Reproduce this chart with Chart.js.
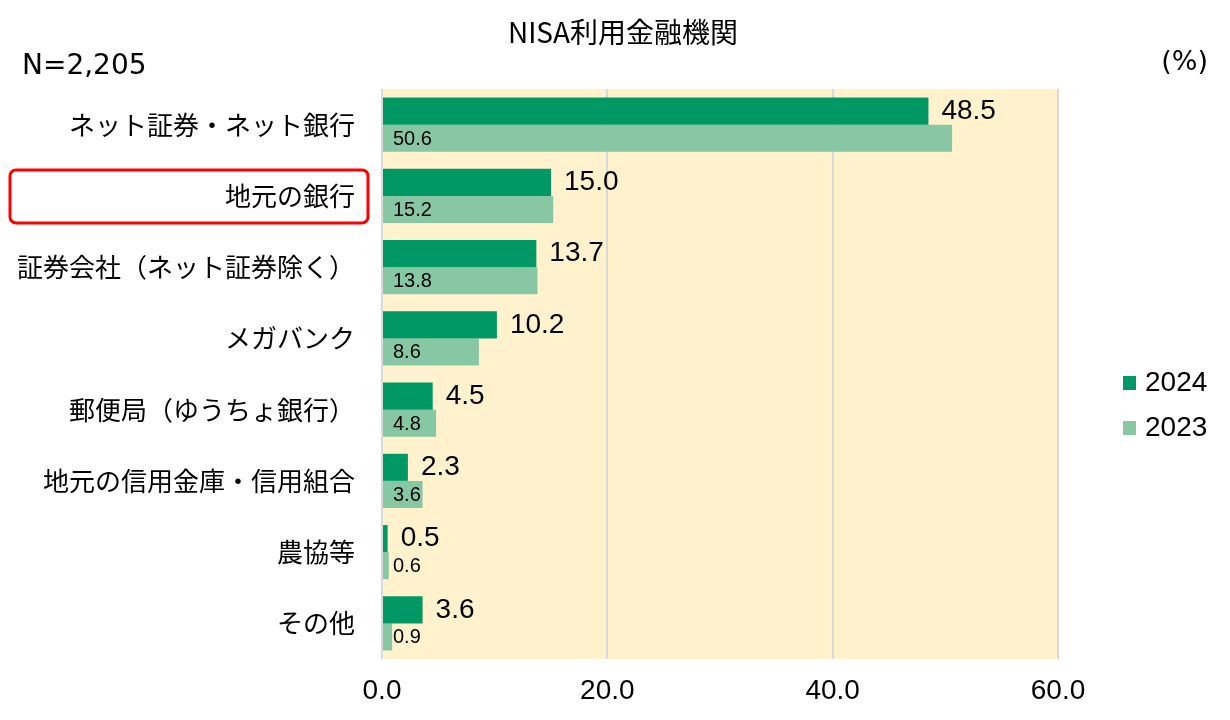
<!DOCTYPE html>
<html><head><meta charset="utf-8">
<script src="https://cdn.jsdelivr.net/npm/chart.js@4/dist/chart.umd.min.js"></script>
<style>html,body{margin:0;padding:0;background:#fff;} #wrap{width:1230px;height:720px;position:relative;}</style>
</head><body><div id="wrap"><canvas id="c" width="1230" height="720"></canvas></div>
<script>
const categories = ['ネット証券・ネット銀行','地元の銀行','証券会社（ネット証券除く）','メガバンク','郵便局（ゆうちょ銀行）','地元の信用金庫・信用組合','農協等','その他'];
const values2024 = [48.5, 15.0, 13.7, 10.2, 4.5, 2.3, 0.5, 3.6];
const values2023 = [50.6, 15.2, 13.8, 8.6, 4.8, 3.6, 0.6, 0.9];
const seriesNames = ['2024', '2023'];
const xTicks = [0, 20, 40, 60];
const chartTitle = 'NISA利用金融機関';
const sampleNote = 'N=2,205';
const unitNote = '(%)';
const highlightIndex = 1;

const colors = ['#009966', '#87C7A3'];
const JP = '"Noto Sans CJK JP", "Noto Sans", sans-serif';
const LAT = '"Liberation Sans", Arial, sans-serif';

function rrect(ctx, x, y, w, h, r) {
  ctx.beginPath();
  ctx.moveTo(x + r, y);
  ctx.lineTo(x + w - r, y); ctx.arcTo(x + w, y, x + w, y + r, r);
  ctx.lineTo(x + w, y + h - r); ctx.arcTo(x + w, y + h, x + w - r, y + h, r);
  ctx.lineTo(x + r, y + h); ctx.arcTo(x, y + h, x, y + h - r, r);
  ctx.lineTo(x, y + r); ctx.arcTo(x, y, x + r, y, r);
  ctx.closePath();
}

const decor = {
  id: 'decor',
  beforeDraw(chart) {
    const {ctx, chartArea: a} = chart;
    ctx.save();
    ctx.fillStyle = '#FFF2CC';
    ctx.fillRect(a.left, a.top, a.right - a.left, a.bottom - a.top);
    ctx.restore();
  },
  afterDatasetsDraw(chart) {
    const {ctx, chartArea: a} = chart;
    ctx.save();
    ctx.fillStyle = '#000';
    ctx.textBaseline = 'middle';
    ctx.textAlign = 'left';
    const m0 = chart.getDatasetMeta(0);
    ctx.font = '28px ' + LAT;
    m0.data.forEach((el, i) => {
      ctx.fillText(values2024[i].toFixed(1), el.x + 13, el.y);
    });
    const m1 = chart.getDatasetMeta(1);
    ctx.font = '20px ' + LAT;
    m1.data.forEach((el, i) => {
      ctx.fillText(values2023[i].toFixed(1), a.left + 11, el.y + 1);
    });
    ctx.restore();
  },
  afterDraw(chart) {
    const {ctx} = chart;
    ctx.save();
    ctx.fillStyle = '#000';
    // title
    ctx.font = '28px ' + JP;
    ctx.textAlign = 'center';
    ctx.textBaseline = 'middle';
    ctx.fillText(chartTitle, 623, 32);
    // N note
    ctx.font = '28px "DejaVu Sans", sans-serif';
    ctx.textAlign = 'left';
    ctx.textBaseline = 'alphabetic';
    ctx.fillText(sampleNote, 22, 74);
    ctx.font = '27px "DejaVu Sans", sans-serif';
    ctx.textAlign = 'right';
    ctx.fillText(unitNote, 1208, 70);
    // legend
    const ly = [383, 428];
    seriesNames.forEach((n, i) => {
      ctx.fillStyle = colors[i];
      ctx.fillRect(1123, ly[i] - 7, 13, 14);
      ctx.fillStyle = '#000';
      ctx.font = '28px ' + LAT;
      ctx.textAlign = 'left';
      ctx.textBaseline = 'middle';
      ctx.fillText(n, 1145, ly[i]);
    });
    // highlight box
    const yc = chart.scales.y.getPixelForValue(highlightIndex);
    ctx.strokeStyle = '#FF0000';
    ctx.lineWidth = 3;
    rrect(ctx, 10, yc - 26, 358, 53, 6);
    ctx.stroke();
    ctx.restore();
  }
};

new Chart(document.getElementById('c'), {
  type: 'bar',
  data: {
    labels: categories,
    datasets: [
      {label: seriesNames[0], data: values2024, backgroundColor: colors[0], barPercentage: 1, categoryPercentage: 0.76},
      {label: seriesNames[1], data: values2023, backgroundColor: colors[1], barPercentage: 1, categoryPercentage: 0.76}
    ]
  },
  options: {
    indexAxis: 'y',
    responsive: false,
    animation: false,
    layout: {padding: {top: 89, right: 172, left: 0, bottom: 0}},
    plugins: {legend: {display: false}, title: {display: false}, tooltip: {enabled: false}},
    scales: {
      x: {
        min: 0, max: 60,
        afterBuildTicks: s => { s.ticks = xTicks.map(v => ({value: v})); },
        afterFit: s => { s.height = 61; },
        ticks: {callback: v => Number(v).toFixed(1), font: {family: LAT, size: 28}, color: '#000', padding: 15, maxRotation: 0},
        grid: {color: '#D9D9D9', lineWidth: 2, drawTicks: false},
        border: {display: false}
      },
      y: {
        afterFit: s => { s.width = 382; },
        ticks: {font: {family: JP, size: 26}, color: '#000', padding: 27},
        grid: {display: false, drawTicks: false},
        border: {display: false}
      }
    }
  },
  plugins: [decor]
});
</script>
</body></html>
